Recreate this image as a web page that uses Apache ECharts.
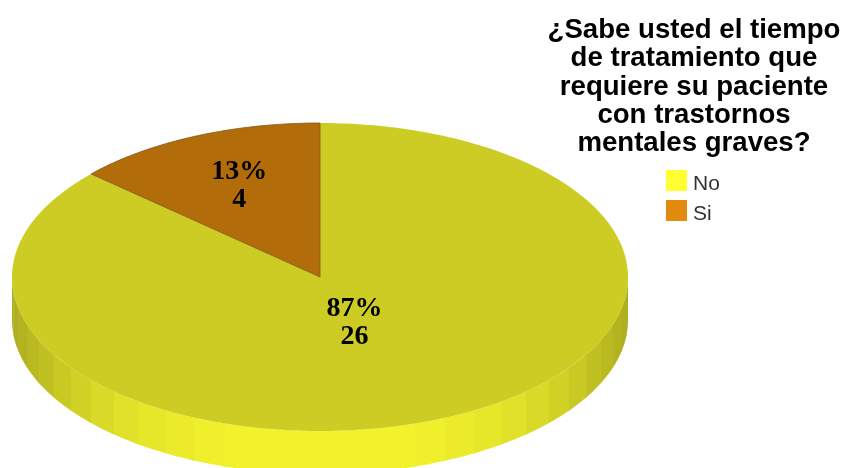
<!DOCTYPE html>
<html>
<head>
<meta charset="utf-8">
<style>html,body{margin:0;padding:0;background:#fff}#chart{width:844px;height:468px}</style>
<script src="https://cdn.jsdelivr.net/npm/echarts@6/dist/echarts.min.js"></script>
</head>
<body>
<div id="chart"></div>
<script>
// Survey answers
const categories = ['No', 'Si'];
const counts = [26, 4];
const percentLabels = ['87%', '13%'];
const legendColors = ['#FFFF33', '#E28A10'];
const topColors = ['#CCCC25', '#B26C0A'];
const titleLines = [
  '¿Sabe usted el tiempo',
  'de tratamiento que',
  'requiere su paciente',
  'con trastornos',
  'mentales graves?'
];

// Tilted pie geometry
const PIE = { cx: 320, cy: 277, rx: 308, ry: 154, depth: 43 };
const LABEL_POS = [{ angle: 159.5, f: 0.32 }, { angle: 336, f: 0.645 }];
const BAND_DEG = 6;
const total = counts.reduce((a, b) => a + b, 0);
const startDeg = counts.map((_, i) => counts.slice(0, i).reduce((a, b) => a + b, 0) / total * 360);

// Angle is measured clockwise from twelve o'clock
function pt(deg, f, dy) {
  const t = deg * Math.PI / 180;
  return [PIE.cx + PIE.rx * f * Math.sin(t), PIE.cy - PIE.ry * f * Math.cos(t) + (dy || 0)];
}
function arc(a, b, dy) {
  const out = [];
  const n = Math.max(2, Math.ceil(Math.abs(b - a)));
  for (let i = 0; i <= n; i++) out.push(pt(a + (b - a) * i / n, 1, dy));
  return out;
}
// The rim gets brighter towards the front of the disc
function rimColor(deg) {
  const k = Math.pow(Math.abs(Math.sin(deg * Math.PI / 180)), 3);
  const mix = (p, q) => Math.round(p + (q - p) * k);
  return `rgb(${mix(242, 172)},${mix(242, 172)},${mix(44, 30)})`;
}

function sliceRenderer(index) {
  return function () {
    const a = startDeg[index];
    const b = a + counts[index] / total * 360;
    const children = [];
    // Visible rim: only the part of the slice facing the viewer
    const from = Math.max(a, 90), to = Math.min(b, 270);
    for (let d = from; d < to; d += BAND_DEG) {
      const e = Math.min(d + BAND_DEG, to);
      const mid = (d + e) / 2;
      const pts = arc(d, Math.min(e + 0.4, to), 0).concat(arc(Math.min(e + 0.4, to), d, PIE.depth));
      children.push({ type: 'polygon', shape: { points: pts }, style: { fill: rimColor(mid) } });
    }
    // Top face
    const face = [[PIE.cx, PIE.cy]].concat(arc(a, b, 0));
    children.push({
      type: 'polygon',
      shape: { points: face },
      style: {
        fill: topColors[index],
        stroke: index === 1 ? '#7E5A10' : null,
        lineWidth: index === 1 ? 0.8 : 0
      }
    });
    return { type: 'group', children };
  };
}

function labelRenderer() {
  const children = categories.map((_, i) => {
    const p = pt(LABEL_POS[i].angle, LABEL_POS[i].f, 0);
    return {
      type: 'text',
      x: p[0], y: p[1],
      style: {
        text: percentLabels[i] + '\n' + counts[i],
        fill: '#000',
        font: 'bold 28px "Liberation Serif"',
        lineHeight: 28,
        align: 'center',
        verticalAlign: 'middle'
      }
    };
  });
  return { type: 'group', children };
}

const series = categories.map((name, i) => ({
  type: 'custom',
  name,
  coordinateSystem: 'none',
  data: [counts[i]],
  itemStyle: { color: legendColors[i] },
  renderItem: sliceRenderer(i),
  silent: true,
  animation: false,
  z: 2
}));
series.push({
  type: 'custom',
  coordinateSystem: 'none',
  data: [total],
  renderItem: labelRenderer,
  silent: true,
  animation: false,
  z: 3
});

const chart = echarts.init(document.getElementById('chart'), null, { renderer: 'canvas' });
chart.setOption({
  backgroundColor: '#fff',
  animation: false,
  title: {
    text: titleLines.join('\n'),
    left: 694,
    top: 16,
    textAlign: 'center',
    padding: 0,
    textStyle: {
      fontFamily: '"Liberation Sans"',
      fontWeight: 'bold',
      fontSize: 27.6,
      lineHeight: 28.4,
      color: '#000'
    }
  },
  legend: {
    data: categories,
    left: 666,
    top: 170,
    padding: 0,
    orient: 'vertical',
    icon: 'rect',
    itemWidth: 21,
    itemHeight: 21,
    itemGap: 5.5,
    selectedMode: false,
    formatter: '{a|{name}}',
    textStyle: {
      rich: {
        a: {
          fontFamily: '"Liberation Sans"',
          fontSize: 21,
          color: '#333',
          padding: [7, 0, 0, 1]
        }
      }
    }
  },
  series
});
</script>
</body>
</html>
